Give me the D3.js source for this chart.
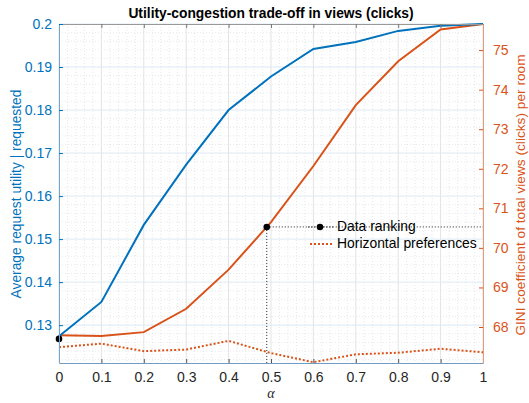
<!DOCTYPE html>
<html>
<head>
<meta charset="utf-8">
<script src="https://cdn.jsdelivr.net/npm/d3@7"></script>
<style>
  body { margin: 0; background: #fff; }
  svg { display: block; font-family: "Liberation Sans", Arial, sans-serif; }
</style>
</head>
<body>
<div id="chart"></div>
<script>
const margin = {top: 24, right: 46, bottom: 40, left: 59};
const width = 529, height = 403;
const visWidth = width - margin.left - margin.right;
const visHeight = height - margin.top - margin.bottom;

const blue = "#0072BD";
const orange = "#D95319";

// values
const alphas = [0, 0.1, 0.2, 0.3, 0.4, 0.5, 0.6, 0.7, 0.8, 0.9, 1];
const utility = [0.1274, 0.1354, 0.1533, 0.1673, 0.1800, 0.1878, 0.1942, 0.1958, 0.1984, 0.1996, 0.2000];
const giniClicks = [67.79, 67.77, 67.87, 68.46, 69.45, 70.65, 72.07, 73.61, 74.72, 75.52, 75.66];
const giniHorizontal = [67.49, 67.58, 67.39, 67.43, 67.65, 67.34, 67.11, 67.31, 67.35, 67.45, 67.36];
const rankingUtility = {alpha: 0, value: 0.1268};
const rankingGini = {alpha: 0.49, value: 70.53};

const xTicks = [0, 0.1, 0.2, 0.3, 0.4, 0.5, 0.6, 0.7, 0.8, 0.9, 1];
const leftTicks = [0.13, 0.14, 0.15, 0.16, 0.17, 0.18, 0.19, 0.2];
const rightTicks = [68, 69, 70, 71, 72, 73, 74, 75];

const svg = d3.select("#chart").append("svg")
  .attr("width", width).attr("height", height);
const g = svg.append("g").attr("transform", `translate(${margin.left}, ${margin.top})`);

const x = d3.scaleLinear().domain([0, 1]).range([0, visWidth]);
const yLeft = d3.scaleLinear().domain([0.1212, 0.2]).range([visHeight, 0]);
const yRight = d3.scaleLinear().domain([67.09, 75.66]).range([visHeight, 0]);

// minor grid
const xMinor = d3.range(0, 1.0001, 0.02).filter(v => Math.abs(v * 10 - Math.round(v * 10)) > 1e-6);
const yMinor = d3.range(0.122, 0.2001, 0.002).filter(v => Math.abs(v * 100 - Math.round(v * 100)) > 1e-6);

g.append("g").selectAll("line").data(xMinor).join("line")
  .attr("x1", d => x(d)).attr("x2", d => x(d))
  .attr("y1", 0).attr("y2", visHeight)
  .attr("stroke", "#d4d8dc").attr("stroke-width", 0.6).attr("stroke-dasharray", "1,2");
g.append("g").selectAll("line").data(yMinor).join("line")
  .attr("x1", 0).attr("x2", visWidth)
  .attr("y1", d => yLeft(d)).attr("y2", d => yLeft(d))
  .attr("stroke", "#d2dbe4").attr("stroke-width", 0.6).attr("stroke-dasharray", "1,2");

// major grid
g.append("g").selectAll("line").data(xTicks).join("line")
  .attr("x1", d => x(d)).attr("x2", d => x(d))
  .attr("y1", 0).attr("y2", visHeight)
  .attr("stroke", "#e3e3e3").attr("stroke-width", 1);
g.append("g").selectAll("line").data(leftTicks).join("line")
  .attr("x1", 0).attr("x2", visWidth)
  .attr("y1", d => yLeft(d)).attr("y2", d => yLeft(d))
  .attr("stroke", "#dde9f4").attr("stroke-width", 1);

// data ranking guide lines
g.append("line")
  .attr("x1", x(rankingGini.alpha)).attr("x2", visWidth)
  .attr("y1", yRight(rankingGini.value)).attr("y2", yRight(rankingGini.value))
  .attr("stroke", "#222").attr("stroke-width", 1).attr("stroke-dasharray", "1,2");
g.append("line")
  .attr("x1", x(rankingGini.alpha)).attr("x2", x(rankingGini.alpha))
  .attr("y1", yRight(rankingGini.value)).attr("y2", visHeight)
  .attr("stroke", "#222").attr("stroke-width", 1).attr("stroke-dasharray", "1,2");

// series
let lineLeft = d3.line().x((d, i) => x(alphas[i])).y(d => yLeft(d));
let lineRight = d3.line().x((d, i) => x(alphas[i])).y(d => yRight(d));

g.append("path").datum(giniHorizontal)
  .attr("d", lineRight).attr("fill", "none")
  .attr("stroke", orange).attr("stroke-width", 2).attr("stroke-dasharray", "2,2");
g.append("path").datum(giniClicks)
  .attr("d", lineRight).attr("fill", "none")
  .attr("stroke", orange).attr("stroke-width", 2);
g.append("path").datum(utility)
  .attr("d", lineLeft).attr("fill", "none")
  .attr("stroke", blue).attr("stroke-width", 2);

g.append("circle")
  .attr("cx", x(rankingUtility.alpha)).attr("cy", yLeft(rankingUtility.value))
  .attr("r", 3.3).attr("fill", "#000");
g.append("circle")
  .attr("cx", x(rankingGini.alpha)).attr("cy", yRight(rankingGini.value))
  .attr("r", 3.3).attr("fill", "#000");

// axes
const tickLen = 4;
const fontAxis = "'Liberation Sans', Arial, sans-serif";

const xAxis = g.append("g").attr("transform", `translate(0, ${visHeight})`)
  .call(d3.axisBottom(x).tickValues(xTicks).tickSizeInner(-tickLen).tickSizeOuter(0)
    .tickPadding(9).tickFormat(d3.format("~g")));
xAxis.select(".domain").attr("stroke", "#6f9cc4");
xAxis.selectAll(".tick line").attr("stroke", "#555");
xAxis.selectAll("text").attr("font-size", 14).attr("fill", "#262626").attr("font-family", fontAxis);

const topAxis = g.append("g")
  .call(d3.axisTop(x).tickValues(xTicks).tickSizeInner(-tickLen).tickSizeOuter(0).tickFormat(""));
topAxis.select(".domain").attr("stroke", "#999");
topAxis.selectAll(".tick line").attr("stroke", "#777");

const leftAxis = g.append("g")
  .call(d3.axisLeft(yLeft).tickValues(leftTicks).tickSizeInner(-tickLen).tickSizeOuter(0)
    .tickPadding(7).tickFormat(d3.format("~g")));
leftAxis.select(".domain").attr("stroke", "#6fa6d4");
leftAxis.selectAll(".tick line").attr("stroke", blue);
leftAxis.selectAll("text").attr("font-size", 14).attr("fill", blue).attr("font-family", fontAxis);

const rightAxis = g.append("g").attr("transform", `translate(${visWidth}, 0)`)
  .call(d3.axisRight(yRight).tickValues(rightTicks).tickSizeInner(-tickLen).tickSizeOuter(0)
    .tickPadding(10));
rightAxis.select(".domain").attr("stroke", "#e59a78");
rightAxis.selectAll(".tick line").attr("stroke", orange);
rightAxis.selectAll("text").attr("font-size", 14).attr("fill", orange).attr("font-family", fontAxis);

// labels
svg.append("text")
  .attr("x", 271).attr("y", 14)
  .attr("text-anchor", "middle").attr("dominant-baseline", "middle")
  .attr("font-weight", "bold").attr("font-size", "13.8px").attr("fill", "#000")
  .text("Utility-congestion trade-off in views (clicks)");

svg.append("text")
  .attr("transform", "translate(17, 194) rotate(-90)")
  .attr("text-anchor", "middle").attr("dominant-baseline", "middle")
  .attr("font-size", "13.8px").attr("fill", blue)
  .text("Average request utility | requested");

svg.append("text")
  .attr("transform", "translate(521, 195) rotate(-90)")
  .attr("text-anchor", "middle").attr("dominant-baseline", "middle")
  .attr("font-size", "13.7px").attr("fill", orange)
  .text("GINI coefficient of total views (clicks) per room");

svg.append("text")
  .attr("x", 271).attr("y", 395)
  .attr("text-anchor", "middle").attr("dominant-baseline", "middle")
  .attr("font-family", "'Liberation Serif', serif").attr("font-style", "italic")
  .attr("font-size", "14px").attr("fill", "#262626")
  .text("α");

// legend
const legend = svg.append("g");
legend.append("line")
  .attr("x1", 308).attr("x2", 333).attr("y1", 227).attr("y2", 227)
  .attr("stroke", "#222").attr("stroke-width", 1).attr("stroke-dasharray", "1,2");
legend.append("circle").attr("cx", 320).attr("cy", 227).attr("r", 3.3).attr("fill", "#000");
legend.append("line")
  .attr("x1", 310).attr("x2", 334).attr("y1", 244).attr("y2", 244)
  .attr("stroke", orange).attr("stroke-width", 2).attr("stroke-dasharray", "2,2");
legend.append("text")
  .attr("x", 337).attr("y", 227).attr("dominant-baseline", "middle")
  .attr("font-size", "13.9px").attr("fill", "#000").text("Data ranking");
legend.append("text")
  .attr("x", 337).attr("y", 244).attr("dominant-baseline", "middle")
  .attr("font-size", "13.9px").attr("fill", "#000").text("Horizontal preferences");
</script>
</body>
</html>
